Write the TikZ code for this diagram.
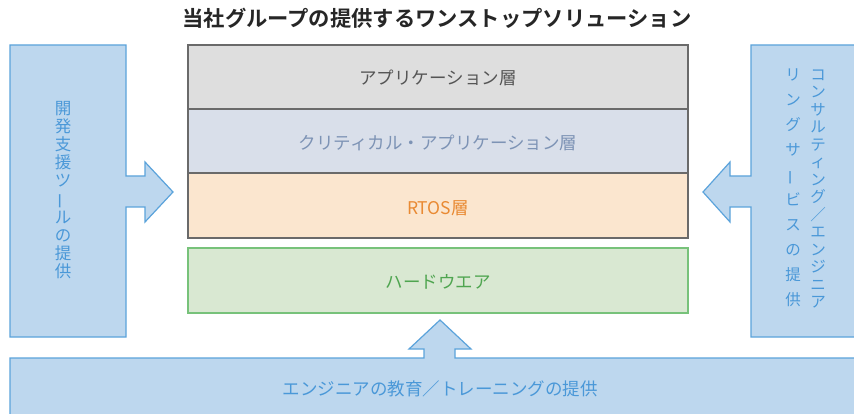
\documentclass[tikz,border=0pt]{standalone}
\usepackage{fontspec}
\usepackage{graphicx}
\setmainfont{Noto Sans CJK JP}
\newfontfamily\titlefont{Noto Sans CJK JP Bold}
\definecolor{laygray}{HTML}{DEDEDE}
\definecolor{layblue}{HTML}{D9DFEA}
\definecolor{laypeach}{HTML}{FBE6CF}
\definecolor{laygreen}{HTML}{D9E8D2}
\definecolor{edgegray}{HTML}{6A6A6A}
\definecolor{edgegreen}{HTML}{77C27A}
\definecolor{txtgray}{HTML}{555555}
\definecolor{txtblue}{HTML}{7D93B5}
\definecolor{txtorange}{HTML}{E98A33}
\definecolor{txtgreen}{HTML}{4FA550}
\definecolor{svcfill}{HTML}{BDD7EE}
\definecolor{svcedge}{HTML}{5BA3DB}
\definecolor{svctext}{HTML}{4A98D8}
\newcommand\vbar{\rotatebox[origin=c]{90}{ー}}
\tikzset{
  layer/.style={draw=edgegray, line width=1.2pt},
  svc/.style={draw=svcedge, fill=svcfill, line width=1.2pt, line join=miter},
  laytext/.style={font=\fontsize{17.5}{19}\selectfont, inner sep=0pt},
  vtext/.style={text=svctext, align=center, inner sep=0pt},
}
\begin{document}
\begin{tikzpicture}[x=1pt,y=-1pt]
\useasboundingbox (0,0) rectangle (854,414);
\clip (0,0) rectangle (854,414);
\fill[white] (0,0) rectangle (854,414);
% title
\node[font=\titlefont\fontsize{21.3}{23}\selectfont, text=black!85, inner sep=0pt] (title) at (437,18) {当社グループの提供するワンストップソリューション};
% layers
\draw[layer, fill=laygray] (188,45) rectangle (688,109);
\node[laytext, text=txtgray] (app) at (438,78) {アプリケーション層};
\draw[layer, fill=layblue] (188,109) rectangle (688,173);
\node[laytext, text=txtblue] (crit) at (438,143) {クリティカル・アプリケーション層};
\draw[layer, fill=laypeach] (188,173) rectangle (688,238);
\node[laytext, text=txtorange] (rtos) at (438,208) {RTOS層};
\draw[draw=edgegreen, line width=1.2pt, fill=laygreen] (188,248) rectangle (688,313);
\node[laytext, text=txtgreen] (hw) at (438,282) {ハードウエア};
% left block arrow
\draw[svc] (10,45) -- (126,45) -- (126,176) -- (145,176) -- (145,162) -- (173,192)
  -- (145,222) -- (145,207) -- (126,207) -- (126,337) -- (10,337) -- cycle;
\node[vtext, font=\fontsize{16.5}{18.2}\selectfont] (tools) at (63,190)
  {開\\発\\支\\援\\ツ\\\vbar\\ル\\の\\提\\供};
% right block arrow
\draw[svc] (751,45) -- (870,45) -- (870,337) -- (751,337) -- (751,207) -- (730,207)
  -- (730,222) -- (703,192) -- (730,162) -- (730,176) -- (751,176) -- cycle;
\node[vtext, font=\fontsize{15.5}{17.5}\selectfont] (consA) at (818,189)
  {コ\\ン\\サ\\ル\\テ\\ィ\\ン\\グ\\／\\エ\\ン\\ジ\\ニ\\ア};
\node[vtext, font=\fontsize{15.5}{25}\selectfont] (consB) at (793,188)
  {リ\\ン\\グ\\サ\\\vbar\\ビ\\ス\\の\\提\\供};
% bottom block arrow
\draw[svc] (10,430) -- (10,358) -- (424,358) -- (424,349) -- (409,349) -- (440,320)
  -- (471,349) -- (455,349) -- (455,358) -- (870,358) -- (870,430) -- cycle;
\node[laytext, text=svctext] (edu) at (440,389) {エンジニアの教育／トレーニングの提供};
\end{tikzpicture}
\end{document}
